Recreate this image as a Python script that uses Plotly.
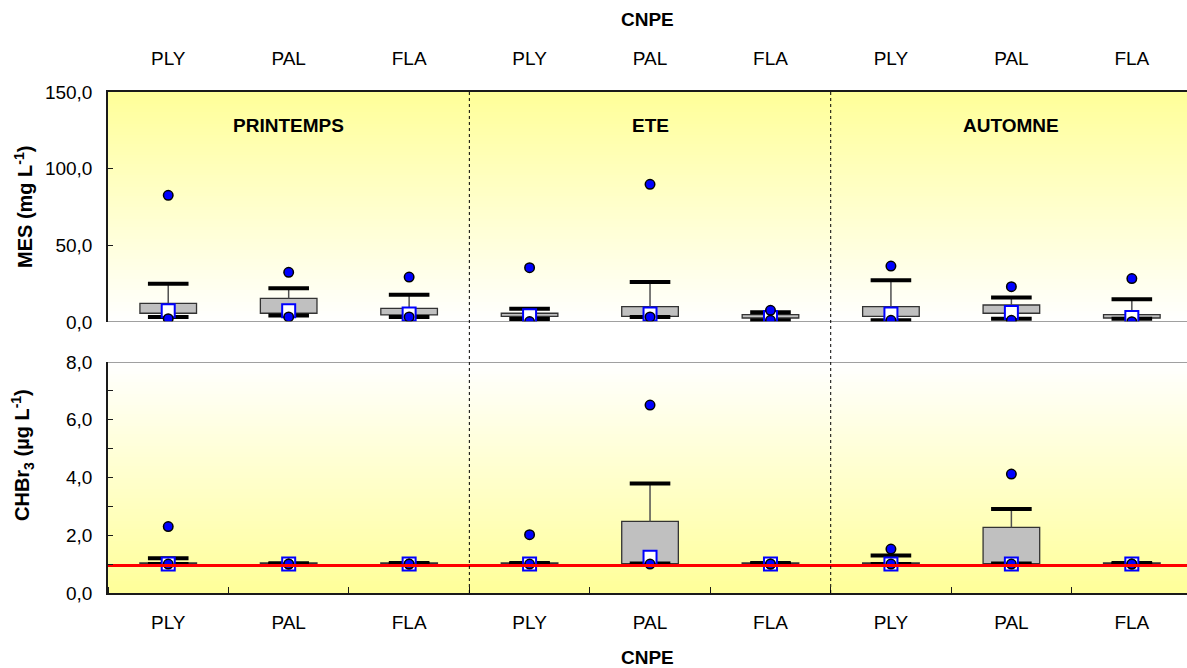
import plotly.graph_objects as go

W, H = 1187, 668

sites = ["PLY", "PAL", "FLA", "PLY", "PAL", "FLA", "PLY", "PAL", "FLA"]
seasons = ["PRINTEMPS", "ETE", "AUTOMNE"]

# MES (mg L-1)
mes_max = [82.6, 32.4, 29.3, 35.4, 89.8, 7.6, 36.5, 23.0, 28.3]
mes_p90 = [25.0, 22.0, 17.8, 8.7, 26.1, 6.3, 27.2, 15.9, 14.8]
mes_q3 = [12.2, 15.4, 8.9, 5.7, 10.0, 4.8, 10.0, 11.1, 4.8]
mes_med = [7.4, 7.4, 5.2, 4.1, 5.2, 3.0, 5.2, 6.2, 3.0]
mes_q1 = [5.7, 5.7, 4.6, 3.7, 3.7, 2.6, 3.7, 5.7, 2.6]
mes_p10 = [3.3, 4.3, 3.3, 2.0, 3.3, 1.1, 1.1, 2.2, 2.2]
mes_min = [2.2, 3.3, 3.3, 0.3, 3.3, 1.1, 1.1, 1.1, 0.2]

# CHBr3 (ug L-1)
chb_max = [2.30, 1.00, 1.00, 2.02, 6.51, 1.00, 1.52, 4.12, 1.00]
chb_p90 = [1.20, 1.03, 1.04, 1.04, 3.79, 1.04, 1.30, 2.91, 1.04]
chb_q3 = [1.04, 1.04, 1.04, 1.04, 2.48, 1.04, 1.04, 2.27, 1.04]
chb_med = [1.00, 1.00, 1.00, 1.00, 1.24, 1.00, 1.00, 1.00, 1.00]
chb_q1 = [1.00, 1.00, 1.00, 1.00, 1.02, 1.00, 1.00, 1.02, 1.00]
chb_p10 = [1.00, 1.00, 1.00, 1.00, 1.02, 1.00, 1.00, 1.02, 1.00]
chb_min = [1.00, 1.00, 1.00, 1.00, 1.00, 1.00, 1.00, 1.00, 1.00]

limit_chb = 0.95

pos = list(range(len(sites)))
FONT = "Arial, Liberation Sans, sans-serif"
YEL = "#FFFF99"
NBANDS = 80
BOXW = 0.47


def py(p):
    return 1 - p / H


fig = go.Figure()


def panel(xa, ya, ymax, grad, mx, p90, q3, med, q1, p10, mn):
    # gradient background (heatmap layer sits below bars and scatter)
    edges = [ymax * i / NBANDS for i in range(NBANDS + 1)]
    zz = [[(i + 0.5) / NBANDS] for i in range(NBANDS)]
    fig.add_trace(go.Heatmap(
        x=[-0.5, 8.6], y=edges, z=zz, xaxis=xa, yaxis=ya,
        colorscale=grad, zmin=0, zmax=1, showscale=False,
        hoverinfo="skip"))
    # whiskers (p10 -> q1 and q3 -> p90)
    wx, wy = [], []
    for i in pos:
        wx += [i, i, None, i, i, None]
        wy += [p10[i], q1[i], None, q3[i], p90[i], None]
    fig.add_trace(go.Scatter(
        x=wx, y=wy, xaxis=xa, yaxis=ya, mode="lines",
        line=dict(color="#505050", width=1.5),
        hoverinfo="skip", showlegend=False))
    # interquartile boxes
    fig.add_trace(go.Bar(
        x=pos, base=q1, y=[b - a for a, b in zip(q1, q3)], xaxis=xa, yaxis=ya,
        width=BOXW, marker=dict(color="#C0C0C0", line=dict(color="#333333", width=1.3)),
        hoverinfo="skip", showlegend=False))
    # whisker caps
    fig.add_trace(go.Scatter(
        x=pos + pos, y=p90 + p10, xaxis=xa, yaxis=ya, mode="markers",
        marker=dict(symbol="line-ew", size=29, line=dict(color="black", width=4)),
        hoverinfo="skip", showlegend=False))
    # median
    fig.add_trace(go.Scatter(
        x=pos, y=med, xaxis=xa, yaxis=ya, mode="markers",
        marker=dict(symbol="square", size=13, color="white",
                    line=dict(color="#0000FF", width=2)),
        hoverinfo="skip", showlegend=False))
    # extremes
    fig.add_trace(go.Scatter(
        x=pos + pos, y=mx + mn, xaxis=xa, yaxis=ya, mode="markers",
        marker=dict(symbol="circle", size=9.5, color="#0000FF",
                    line=dict(color="black", width=1.5)),
        hoverinfo="skip", showlegend=False))


panel("x", "y", 150, [[0, "white"], [1, YEL]],
      mes_max, mes_p90, mes_q3, mes_med, mes_q1, mes_p10, mes_min)
panel("x2", "y2", 8, [[0, YEL], [1, "white"]],
      chb_max, chb_p90, chb_q3, chb_med, chb_q1, chb_p10, chb_min)

fig.add_trace(go.Scatter(
    x=[-0.5, 8.6], y=[limit_chb, limit_chb], xaxis="x2", yaxis="y2",
    mode="lines", line=dict(color="#FF0000", width=3),
    hoverinfo="skip", showlegend=False))

xdom = [108 / W, 1]
xr = [-0.5, 8.458]
tickfont = dict(family=FONT, size=19, color="black")

fig.update_layout(
    width=W, height=H, margin=dict(l=0, r=0, t=0, b=0, autoexpand=False),
    paper_bgcolor="white", plot_bgcolor="rgba(0,0,0,0)",
    separators=", ", showlegend=False, barmode="overlay",
    font=dict(family=FONT, color="black"),
    xaxis=dict(domain=xdom, range=xr, anchor="y", side="top", automargin=False,
               tickvals=pos, ticktext=sites, ticks="", showgrid=False,
               zeroline=False, showline=True, linecolor="#1a1a1a", linewidth=1.5,
               tickfont=tickfont, ticklabelstandoff=18),
    yaxis=dict(domain=[py(322), py(92)], range=[0, 150], tickvals=[0, 50, 100, 150],
               automargin=False,
               tickformat=".1f", ticks="inside", ticklen=5, tickcolor="#1a1a1a",
               showgrid=False, zeroline=False, showline=True, linecolor="#1a1a1a",
               linewidth=1.5, tickfont=tickfont, ticklabelstandoff=10),
    xaxis2=dict(domain=xdom, range=xr, anchor="y2", side="bottom", automargin=False,
                tickvals=pos, ticktext=sites, ticks="", showgrid=False,
                zeroline=False, showline=True, linecolor="#1a1a1a", linewidth=1.5,
                tickfont=tickfont, ticklabelstandoff=11,
                minor=dict(tickmode="linear", tick0=0.5, dtick=1, ticks="inside",
                           ticklen=6, tickcolor="#1a1a1a", showgrid=False)),
    yaxis2=dict(domain=[py(593), py(362)], range=[0, 8], dtick=2, tick0=0,
                automargin=False,
                tickformat=".1f", ticks="inside", ticklen=5, tickcolor="#1a1a1a",
                showgrid=False, zeroline=False, showline=True, linecolor="#1a1a1a",
                linewidth=1.5, tickfont=tickfont, ticklabelstandoff=10,
                minor=dict(dtick=1, ticks="inside", ticklen=5, tickcolor="#1a1a1a",
                           showgrid=False)),
)

# gray frame lines
fig.add_shape(type="line", xref="x domain", yref="y", x0=0, x1=1, y0=0, y1=0,
              line=dict(color="#808080", width=1.5))
fig.add_shape(type="line", xref="x2 domain", yref="y2", x0=0, x1=1, y0=8, y1=8,
              line=dict(color="#808080", width=1.5))
# season separators
for xs in [2.5, 5.5]:
    fig.add_shape(type="line", xref="x", yref="paper", x0=xs, x1=xs,
                  y0=py(593), y1=py(92), line=dict(color="black", width=1, dash="dot"))

# season labels
for i, s in enumerate(seasons):
    fig.add_annotation(x=3 * i + 1, y=py(125), xref="x", yref="paper", text="<b>%s</b>" % s,
                       xanchor="center", yanchor="middle", showarrow=False,
                       font=dict(family=FONT, size=19, color="black"))

fig.add_annotation(x=(108 + W) / 2 / W, y=py(19), xref="paper", yref="paper",
                   text="<b>CNPE</b>", showarrow=False, xanchor="center", yanchor="middle",
                   font=dict(family=FONT, size=19, color="black"))
fig.add_annotation(x=(108 + W) / 2 / W, y=py(657), xref="paper", yref="paper",
                   text="<b>CNPE</b>", showarrow=False, xanchor="center", yanchor="middle",
                   font=dict(family=FONT, size=19, color="black"))
fig.add_annotation(x=23 / W, y=py(207), xref="paper", yref="paper",
                   text="<b>MES (mg L<sup>-1</sup>)</b>", textangle=-90, showarrow=False,
                   xanchor="center", yanchor="middle",
                   font=dict(family=FONT, size=20, color="black"))
fig.add_annotation(x=23 / W, y=py(455), xref="paper", yref="paper",
                   text="<b>CHBr<sub>3</sub> (µg L<sup>-1</sup>)</b>", textangle=-90,
                   xanchor="center", yanchor="middle",
                   showarrow=False, font=dict(family=FONT, size=20, color="black"))

fig.write_html("out.html")
